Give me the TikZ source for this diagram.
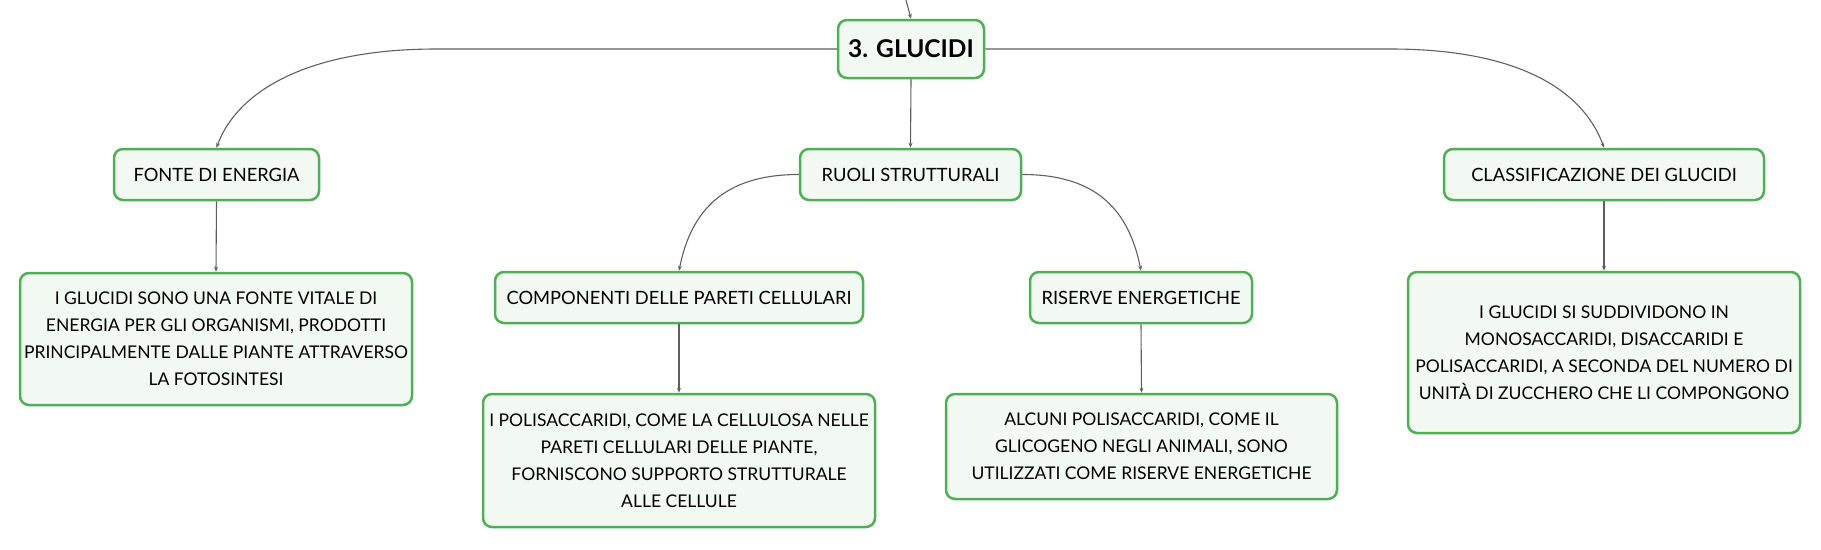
\documentclass[tikz,border=0pt]{standalone}
\usepackage{fontspec}
\setmainfont{Lato}
\usepackage{tikz}
\usetikzlibrary{arrows.meta}
\definecolor{boxgreen}{RGB}{80,175,85}
\definecolor{boxfill}{RGB}{242,249,242}
\definecolor{linkgray}{RGB}{95,95,95}

\begin{document}
\begin{tikzpicture}[x=1pt, y=-1pt]
		\tikzstyle{box}=[draw=boxgreen, fill=boxfill, line width=2.5pt, rounded corners=9pt, inner sep=0pt, font=\fontsize{18.3}{22}\selectfont];
		\tikzstyle{topic}=[box, font=\fontsize{24.5}{28}\selectfont\bfseries];
		\tikzstyle{leaf}=[box, align=center, font=\fontsize{17.5}{27}\selectfont];
		\tikzstyle{link}=[draw=linkgray, line width=1.1pt, -{Stealth[length=5pt,width=4pt]}];

		\useasboundingbox (0,0) rectangle (1821,549);

		\coordinate (top) at (906,0);
		\node[topic, minimum width=146, minimum height=58] (glucidi) at (911,49) {3. GLUCIDI};

		\node[box, minimum width=205, minimum height=51] (fonte) at (216.5,174.5) {FONTE DI ENERGIA};
		\node[box, minimum width=221, minimum height=51] (ruoli) at (910.5,174.5) {RUOLI STRUTTURALI};
		\node[box, minimum width=320, minimum height=51] (classif) at (1604,174.5) {CLASSIFICAZIONE DEI GLUCIDI};

		\node[box, minimum width=368, minimum height=51] (pareti) at (679,297.5) {COMPONENTI DELLE PARETI CELLULARI};
		\node[box, minimum width=222, minimum height=51] (riserve) at (1141,297.5) {RISERVE ENERGETICHE};

		\node[leaf, minimum width=392, minimum height=132] (fonteleaf) at (216,339) {I GLUCIDI SONO UNA FONTE VITALE DI\\ENERGIA PER GLI ORGANISMI, PRODOTTI\\PRINCIPALMENTE DALLE PIANTE ATTRAVERSO\\LA FOTOSINTESI};
		\node[leaf, minimum width=392, minimum height=133] (paretileaf) at (679,460.5) {I POLISACCARIDI, COME LA CELLULOSA NELLE\\PARETI CELLULARI DELLE PIANTE,\\FORNISCONO SUPPORTO STRUTTURALE\\ALLE CELLULE};
		\node[leaf, minimum width=391, minimum height=105] (riserveleaf) at (1141.5,446.5) {ALCUNI POLISACCARIDI, COME IL\\GLICOGENO NEGLI ANIMALI, SONO\\UTILIZZATI COME RISERVE ENERGETICHE};
		\node[leaf, minimum width=392, minimum height=161] (classifleaf) at (1604,352.5) {I GLUCIDI SI SUDDIVIDONO IN\\MONOSACCARIDI, DISACCARIDI E\\POLISACCARIDI, A SECONDA DEL NUMERO DI\\UNITÀ DI ZUCCHERO CHE LI COMPONGONO};

		\draw[link] (top) -- (glucidi.north);
		\draw[link] (glucidi.west) -- ++(-400,0) .. controls +(-140,0) and +(18,-50) .. (fonte.north);
		\draw[link] (glucidi.east) -- ++(405,0) .. controls +(140,0) and +(-18,-50) .. (classif.north);
		\draw[link] (glucidi.south) -- (ruoli.north);
		\draw[link] (ruoli.west) .. controls +(-75,0) and +(12,-60) .. (pareti.north);
		\draw[link] (ruoli.east) .. controls +(75,0) and +(-12,-60) .. (riserve.north);
		\draw[link] (fonte.south) -- (fonteleaf.north);
		\draw[link] (pareti.south) -- (paretileaf.north);
		\draw[link] (riserve.south) -- (riserveleaf.north);
		\draw[link] (classif.south) -- (classifleaf.north);
	\end{tikzpicture}
\end{document}
